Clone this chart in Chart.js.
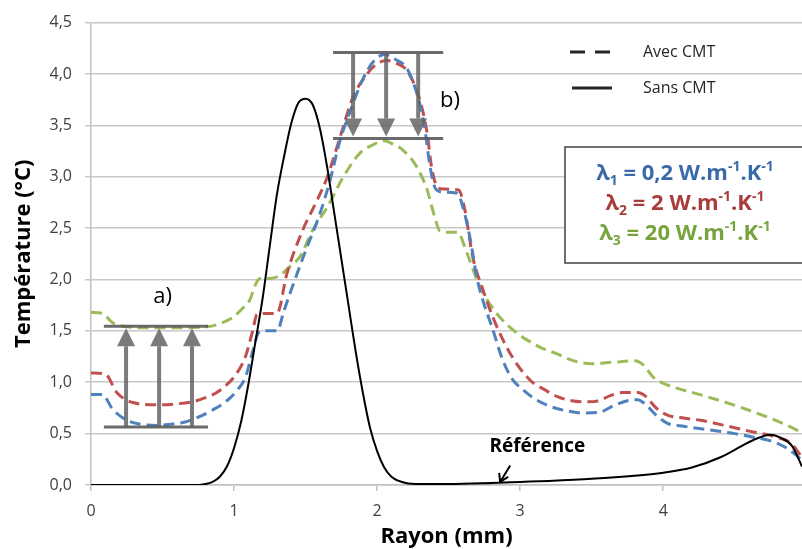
<!DOCTYPE html>
<html>
<head>
<meta charset="utf-8">
<script src="https://cdn.jsdelivr.net/npm/chart.js@4.4.1/dist/chart.umd.min.js"></script>
<style>
  body { margin: 0; background: #fff; }
  #wrap { width: 802px; height: 549px; }
</style>
</head>
<body>
<div id="wrap"><canvas id="myChart" width="802" height="549"></canvas></div>
<script>
// Rayon (mm) / Température (°C)
const sansX = [0, 0.5, 0.75, 0.8, 0.85, 0.9, 0.95, 1.0, 1.05, 1.1, 1.15, 1.2, 1.25, 1.3, 1.35, 1.4, 1.45, 1.5, 1.55, 1.6, 1.65, 1.7, 1.75, 1.8, 1.85, 1.9, 1.95, 2.0, 2.05, 2.1, 2.2, 2.3, 2.5, 2.8, 3.0, 3.2, 3.5, 3.8, 4.0, 4.2, 4.4, 4.55, 4.65, 4.75, 4.82, 4.9, 4.97];
const sansY = [0, 0, 0, 0.01, 0.03, 0.08, 0.18, 0.36, 0.62, 0.98, 1.4, 1.82, 2.33, 2.83, 3.2, 3.52, 3.72, 3.76, 3.7, 3.47, 3.1, 2.65, 2.2, 1.75, 1.3, 0.9, 0.56, 0.33, 0.17, 0.08, 0.02, 0.01, 0.01, 0.02, 0.03, 0.04, 0.06, 0.09, 0.12, 0.17, 0.27, 0.38, 0.45, 0.49, 0.46, 0.38, 0.18];

const l1X = [0, 0.08, 0.15, 0.25, 0.35, 0.46, 0.55, 0.65, 0.75, 0.85, 0.95, 1.02, 1.08, 1.13, 1.17, 1.2, 1.3, 1.35, 1.4, 1.5, 1.6, 1.67, 1.74, 1.81, 1.9, 1.98, 2.05, 2.13, 2.21, 2.28, 2.33, 2.37, 2.41, 2.46, 2.56, 2.6, 2.65, 2.7, 2.75, 2.8, 2.88, 2.95, 3.0, 3.1, 3.2, 3.33, 3.45, 3.56, 3.65, 3.75, 3.82, 3.88, 3.95, 4.03, 4.15, 4.3, 4.5, 4.65, 4.75, 4.85, 4.92, 4.97];
const l1Y = [0.88, 0.88, 0.74, 0.63, 0.59, 0.58, 0.59, 0.61, 0.66, 0.73, 0.82, 0.92, 1.05, 1.3, 1.48, 1.5, 1.5, 1.7, 1.9, 2.28, 2.64, 2.96, 3.35, 3.63, 3.95, 4.13, 4.19, 4.14, 4.05, 3.8, 3.5, 3.1, 2.88, 2.85, 2.84, 2.7, 2.4, 2.0, 1.75, 1.55, 1.21, 1.02, 0.95, 0.84, 0.77, 0.72, 0.7, 0.71, 0.77, 0.82, 0.83, 0.78, 0.68, 0.6, 0.57, 0.54, 0.5, 0.46, 0.43, 0.37, 0.3, 0.24];

const l2X = [0, 0.1, 0.18, 0.3, 0.46, 0.6, 0.71, 0.8, 0.9, 1.02, 1.08, 1.13, 1.16, 1.2, 1.3, 1.37, 1.48, 1.58, 1.65, 1.74, 1.83, 1.93, 2.0, 2.07, 2.14, 2.21, 2.3, 2.35, 2.38, 2.42, 2.46, 2.57, 2.61, 2.67, 2.74, 2.81, 2.93, 3.07, 3.18, 3.26, 3.36, 3.47, 3.55, 3.63, 3.72, 3.82, 3.88, 3.95, 4.03, 4.15, 4.26, 4.49, 4.65, 4.73, 4.8, 4.89, 4.97];
const l2Y = [1.09, 1.08, 0.9, 0.8, 0.78, 0.79, 0.81, 0.85, 0.92, 1.09, 1.25, 1.5, 1.66, 1.67, 1.67, 2.06, 2.48, 2.77, 2.99, 3.38, 3.77, 4.0, 4.1, 4.13, 4.1, 4.03, 3.74, 3.42, 3.1, 2.9, 2.88, 2.87, 2.7, 2.21, 1.9, 1.63, 1.28, 1.02, 0.92, 0.86, 0.82, 0.81, 0.82, 0.87, 0.9, 0.9, 0.86, 0.75, 0.68, 0.65, 0.63, 0.56, 0.51, 0.49, 0.46, 0.41, 0.27];

const l3X = [0, 0.08, 0.15, 0.25, 0.41, 0.6, 0.81, 0.92, 0.99, 1.06, 1.11, 1.15, 1.18, 1.25, 1.32, 1.4, 1.46, 1.55, 1.65, 1.76, 1.88, 1.97, 2.05, 2.12, 2.18, 2.28, 2.35, 2.4, 2.44, 2.5, 2.56, 2.63, 2.7, 2.77, 2.86, 2.95, 3.05, 3.14, 3.25, 3.37, 3.5, 3.6, 3.7, 3.8, 3.86, 3.93, 4.0, 4.1, 4.28, 4.49, 4.73, 4.85, 4.97];
const l3Y = [1.68, 1.67, 1.58, 1.54, 1.53, 1.53, 1.54, 1.58, 1.63, 1.72, 1.8, 1.95, 2.01, 2.01, 2.04, 2.14, 2.22, 2.48, 2.7, 2.99, 3.23, 3.31, 3.35, 3.31, 3.26, 3.09, 2.87, 2.62, 2.47, 2.46, 2.46, 2.25, 1.99, 1.8, 1.63, 1.51, 1.41, 1.34, 1.28, 1.21, 1.18, 1.19, 1.2, 1.21, 1.17, 1.05, 0.99, 0.94, 0.87, 0.78, 0.66, 0.59, 0.51];

const xTicks = [0, 1, 2, 3, 4];
const lambdaLabels = [
  [['λ'], ['1', 'sub'], [' = 0,2 W.m'], ['-1', 'sup'], ['.K'], ['-1', 'sup']],
  [['λ'], ['2', 'sub'], [' = 2 W.m'], ['-1', 'sup'], ['.K'], ['-1', 'sup']],
  [['λ'], ['3', 'sub'], [' = 20 W.m'], ['-1', 'sup'], ['.K'], ['-1', 'sup']]
];
const lambdaColors = ['#3b6aa8', '#a83c3a', '#77a33c'];

const FONT = "'Open Sans', 'Noto Sans', sans-serif";

function pts(xs, ys) {
  return xs.map((x, i) => ({ x: x, y: ys[i] }));
}

function arrow(ctx, x, y1, y2) {
  // y1 = départ, y2 = pointe
  const dir = y2 > y1 ? 1 : -1;
  const head = 18;
  ctx.strokeStyle = 'rgba(100,100,100,0.85)';
  ctx.fillStyle = 'rgba(100,100,100,0.85)';
  ctx.lineWidth = 4;
  ctx.beginPath();
  ctx.moveTo(x, y1);
  ctx.lineTo(x, y2 - dir * head);
  ctx.stroke();
  ctx.beginPath();
  ctx.moveTo(x, y2);
  ctx.lineTo(x - 9, y2 - dir * head);
  ctx.lineTo(x + 9, y2 - dir * head);
  ctx.closePath();
  ctx.fill();
}

function richText(ctx, parts, cx, cy, size, color) {
  const big = 'bold ' + size + 'px ' + FONT;
  const small = 'bold ' + Math.round(size * 0.62) + 'px ' + FONT;
  let w = 0;
  parts.forEach(p => { ctx.font = p[1] ? small : big; w += ctx.measureText(p[0]).width; });
  let x = cx - w / 2;
  ctx.fillStyle = color;
  ctx.textAlign = 'left';
  ctx.textBaseline = 'middle';
  parts.forEach(p => {
    ctx.font = p[1] ? small : big;
    let dy = 0;
    if (p[1] === 'sub') dy = 7;
    if (p[1] === 'sup') dy = -7;
    ctx.fillText(p[0], x, cy + dy);
    x += ctx.measureText(p[0]).width;
  });
}

const extras = {
  id: 'extras',
  afterDatasetsDraw(chart) {
    const ctx = chart.ctx;
    const sx = chart.scales.x, sy = chart.scales.y;
    const X = v => sx.getPixelForValue(v), Y = v => sy.getPixelForValue(v);
    ctx.save();

    // a) flèches vers le haut
    ctx.strokeStyle = 'rgba(90,90,90,0.9)';
    ctx.lineWidth = 3;
    ctx.beginPath();
    ctx.moveTo(X(0.09), Y(1.545)); ctx.lineTo(X(0.818), Y(1.545));
    ctx.moveTo(X(0.09), Y(0.564)); ctx.lineTo(X(0.818), Y(0.564));
    ctx.stroke();
    [0.245, 0.476, 0.706].forEach(v => arrow(ctx, X(v), Y(0.564), Y(1.545) + 2));

    // b) flèches vers le bas
    ctx.strokeStyle = 'rgba(90,90,90,0.9)';
    ctx.lineWidth = 3;
    ctx.beginPath();
    ctx.moveTo(X(1.692), Y(4.208)); ctx.lineTo(X(2.462), Y(4.208));
    ctx.moveTo(X(1.692), Y(3.372)); ctx.lineTo(X(2.462), Y(3.372));
    ctx.stroke();
    [1.832, 2.063, 2.287].forEach(v => arrow(ctx, X(v), Y(4.208), Y(3.372) - 2));

    ctx.fillStyle = '#000';
    ctx.font = '22px ' + FONT;
    ctx.textAlign = 'center';
    ctx.textBaseline = 'middle';
    ctx.fillText('a)', X(0.5), Y(1.83));
    ctx.fillText('b)', X(2.51), Y(3.74));

    // Référence
    ctx.font = 'bold 19px ' + FONT;
    ctx.fillText('Référence', X(3.12), Y(0.37));
    const ax1 = X(2.93), ay1 = Y(0.19), ax2 = X(2.86), ay2 = Y(0.03);
    ctx.strokeStyle = '#000';
    ctx.lineWidth = 2;
    ctx.beginPath();
    ctx.moveTo(ax1, ay1); ctx.lineTo(ax2, ay2);
    ctx.moveTo(ax2, ay2); ctx.lineTo(ax2 - 1, ay2 - 9);
    ctx.moveTo(ax2, ay2); ctx.lineTo(ax2 + 8, ay2 - 5);
    ctx.stroke();

    // légende
    const area = chart.chartArea;
    const lx = area.left + 479;
    ctx.strokeStyle = '#262626';
    ctx.lineWidth = 3;
    ctx.setLineDash([15, 10]);
    ctx.beginPath(); ctx.moveTo(lx, 52); ctx.lineTo(lx + 40, 52); ctx.stroke();
    ctx.setLineDash([]);
    ctx.beginPath(); ctx.moveTo(lx + 2, 88); ctx.lineTo(lx + 42, 88); ctx.stroke();
    ctx.fillStyle = '#262626';
    ctx.font = '16px ' + FONT;
    ctx.textAlign = 'left';
    ctx.fillText('Avec CMT', lx + 73, 52);
    ctx.fillText('Sans CMT', lx + 73, 88);

    // encadré lambda
    ctx.fillStyle = '#fff';
    ctx.fillRect(565, 147, 240, 116);
    ctx.strokeStyle = '#404040';
    ctx.lineWidth = 1.5;
    ctx.strokeRect(565, 147, 240, 116);
    lambdaLabels.forEach((parts, i) => richText(ctx, parts, 685, 174 + i * 30, 22, lambdaColors[i]));

    ctx.restore();
  }
};

const dash = [11, 6];

new Chart(document.getElementById('myChart'), {
  type: 'line',
  data: {
    datasets: [
      { label: 'Sans CMT', data: pts(sansX, sansY), borderColor: '#000', borderWidth: 2, order: 0 },
      { label: 'λ1', data: pts(l1X, l1Y), borderColor: '#4f81bd', borderWidth: 3, borderDash: dash, order: 1 },
      { label: 'λ2', data: pts(l2X, l2Y), borderColor: '#c0504d', borderWidth: 3, borderDash: dash, order: 2 },
      { label: 'λ3', data: pts(l3X, l3Y), borderColor: '#9bbb59', borderWidth: 3, borderDash: dash, order: 3 }
    ]
  },
  options: {
    responsive: false,
    animation: false,
    devicePixelRatio: 1,
    layout: { padding: { top: 22, right: 0, left: 0, bottom: 0 } },
    elements: {
      point: { radius: 0 },
      line: { cubicInterpolationMode: 'monotone', fill: false }
    },
    plugins: { legend: { display: false }, tooltip: { enabled: false } },
    scales: {
      x: {
        type: 'linear',
        min: 0,
        max: 4.97,
        afterBuildTicks: s => { s.ticks = xTicks.map(v => ({ value: v })); },
        afterFit: s => { s.height = 64; },
        ticks: { font: { family: FONT, size: 16 }, color: '#404040', padding: 11, maxRotation: 0 },
        grid: { drawOnChartArea: false, tickLength: 6, color: '#c0c0c0', lineWidth: 1.5 },
        border: { color: '#c0c0c0', width: 1.5 },
        title: { display: true, text: 'Rayon (mm)', font: { family: FONT, size: 22, weight: 'bold' }, color: '#000', padding: { top: 0, bottom: -1 } }
      },
      y: {
        min: 0,
        max: 4.5,
        afterFit: s => { s.width = 91; },
        ticks: { stepSize: 0.5, font: { family: FONT, size: 16 }, color: '#404040', padding: 13,
          callback: v => v.toFixed(1).replace('.', ',') },
        grid: { color: '#c8c8c8', lineWidth: 1.5, tickLength: 6 },
        border: { color: '#c0c0c0', width: 1.5 },
        title: { display: true, text: 'Température (°C)', font: { family: FONT, size: 22, weight: 'bold' }, color: '#000', padding: { top: 11, bottom: 0 } }
      }
    }
  },
  plugins: [extras]
});
</script>
</body>
</html>
